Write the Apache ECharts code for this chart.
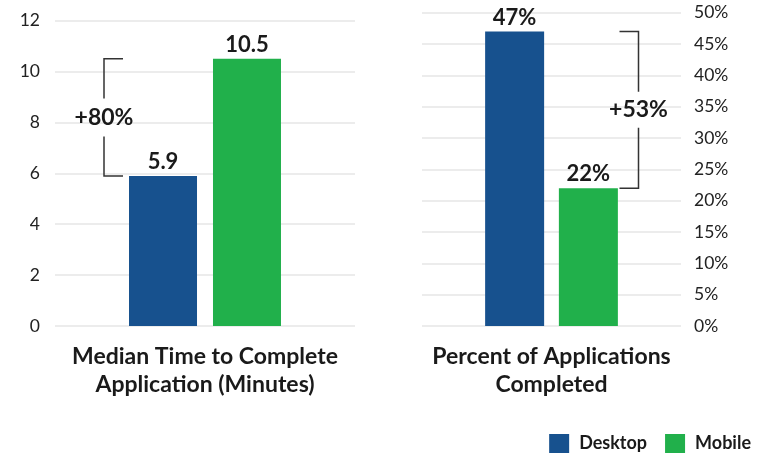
<!DOCTYPE html>
<html>
<head>
<meta charset="utf-8">
<script src="https://cdn.jsdelivr.net/npm/echarts@6/dist/echarts.min.js"></script>
<style>
  html, body { margin: 0; padding: 0; background: #ffffff; }
  #chart { width: 769px; height: 453px; }
</style>
</head>
<body>
<div id="chart"></div>
<script>
// Panel titles double as the single category of each panel
const timeCategory = ['Median Time to Complete\nApplication (Minutes)'];
const completionCategory = ['Percent of Applications\nCompleted'];
const seriesNames = ['Desktop', 'Mobile'];
const medianMinutes = [5.9, 10.5];       // Desktop, Mobile
const completedPercent = [47, 22];       // Desktop, Mobile
const changeLabels = ['+80%', '+53%'];
const minutesAxis = { min: 0, max: 12, interval: 2 };
const percentAxis = { min: 0, max: 50, interval: 5 };

const BLUE = '#17518e';
const GREEN = '#21b04b';
const FONT = 'Lato';
const TEXT = '#1a1a1a';

const chart = echarts.init(document.getElementById('chart'), null, { renderer: 'canvas' });

const barLabel = (fmt) => ({
  show: true,
  position: 'top',
  distance: 3,
  fontFamily: FONT,
  fontWeight: 'bold',
  fontSize: 22,
  color: TEXT,
  formatter: fmt
});

const gridLine = { show: true, lineStyle: { color: '#e6e6e6', width: 1.5 } };
const catLabel = {
  fontFamily: FONT, fontWeight: 'bold', fontSize: 23, color: TEXT,
  lineHeight: 28, margin: 17, interval: 0
};

chart.setOption({
  animation: false,
  backgroundColor: '#ffffff',
  textStyle: { fontFamily: FONT },
  legend: {
    data: seriesNames,
    right: 18,
    top: 434,
    padding: 0,
    icon: 'rect',
    itemWidth: 20,
    itemHeight: 19,
    itemGap: 18,
    textStyle: { fontFamily: FONT, fontWeight: 'bold', fontSize: 18, color: TEXT, padding: [0, 0, 0, 5] },
    selectedMode: false
  },
  grid: [
    { left: 55, right: 414, top: 20.7, bottom: 127 },
    { left: 422, right: 88, top: 12.7, bottom: 127 }
  ],
  xAxis: [
    { type: 'category', gridIndex: 0, data: timeCategory,
      axisLine: { show: false }, axisTick: { show: false }, axisLabel: catLabel },
    { type: 'category', gridIndex: 1, data: completionCategory,
      axisLine: { show: false }, axisTick: { show: false }, axisLabel: catLabel }
  ],
  yAxis: [
    { type: 'value', gridIndex: 0, min: minutesAxis.min, max: minutesAxis.max, interval: minutesAxis.interval,
      axisLine: { show: false }, axisTick: { show: false }, splitLine: gridLine,
      axisLabel: { fontFamily: FONT, fontSize: 17.5, color: '#222', margin: 15 } },
    { type: 'value', gridIndex: 1, position: 'right',
      min: percentAxis.min, max: percentAxis.max, interval: percentAxis.interval,
      axisLine: { show: false }, axisTick: { show: false }, splitLine: gridLine,
      axisLabel: { fontFamily: FONT, fontSize: 17.5, color: '#222', margin: 13, formatter: '{value}%' } }
  ],
  series: [
    { name: seriesNames[0], type: 'bar', xAxisIndex: 0, yAxisIndex: 0,
      data: [medianMinutes[0]], barWidth: 68, barGap: '23.5%',
      itemStyle: { color: BLUE }, label: barLabel('{c}') },
    { name: seriesNames[1], type: 'bar', xAxisIndex: 0, yAxisIndex: 0,
      data: [medianMinutes[1]], barWidth: 68, barGap: '23.5%',
      itemStyle: { color: GREEN }, label: barLabel('{c}') },
    { name: seriesNames[0], type: 'bar', xAxisIndex: 1, yAxisIndex: 1,
      data: [completedPercent[0]], barWidth: 59, barGap: '25%',
      itemStyle: { color: BLUE }, label: barLabel('{c}%') },
    { name: seriesNames[1], type: 'bar', xAxisIndex: 1, yAxisIndex: 1,
      data: [completedPercent[1]], barWidth: 59, barGap: '25%',
      itemStyle: { color: GREEN }, label: barLabel('{c}%') }
  ]
});

// Brackets linking the two bar heights, with the relative change written in the gap
function bracket(gridIndex, cat, lowVal, highVal, xOffset, tickDir, text, gap) {
  const cx = chart.convertToPixel({ gridIndex: gridIndex }, [cat, 0])[0];
  const yLow = chart.convertToPixel({ gridIndex: gridIndex }, [cat, lowVal])[1];
  const yHigh = chart.convertToPixel({ gridIndex: gridIndex }, [cat, highVal])[1];
  const x = cx + xOffset;
  const mid = (yLow + yHigh) / 2;
  const tick = 19 * tickDir;
  const stroke = { stroke: '#333', lineWidth: 1.5 };
  return [
    { type: 'polyline', shape: { points: [[x + tick, yHigh], [x, yHigh], [x, mid - gap]] }, style: Object.assign({ fill: null }, stroke), silent: true },
    { type: 'polyline', shape: { points: [[x, mid + gap], [x, yLow], [x + tick, yLow]] }, style: Object.assign({ fill: null }, stroke), silent: true },
    { type: 'text', x: x, y: mid, style: {
        text: text, fontFamily: FONT, fontWeight: 'bold', fontSize: 23, fill: TEXT,
        align: 'center', verticalAlign: 'middle' }, silent: true }
  ];
}

chart.setOption({
  graphic: [].concat(
    bracket(0, timeCategory[0], medianMinutes[0], medianMinutes[1], -101, 1, changeLabels[0], 19),
    bracket(1, completionCategory[0], completedPercent[1], completedPercent[0], 87, -1, changeLabels[1], 18)
  )
});
</script>
</body>
</html>
